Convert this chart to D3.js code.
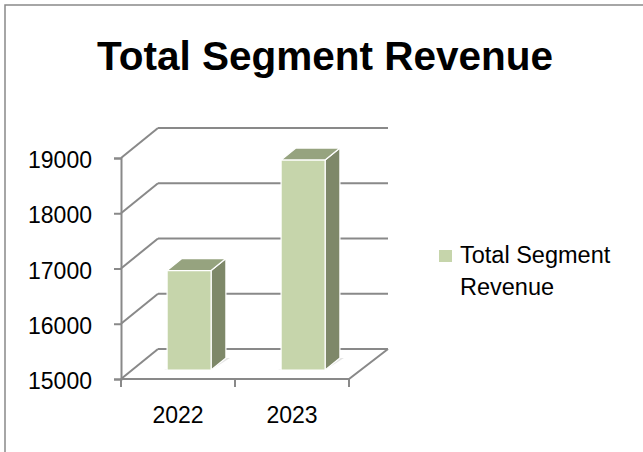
<!DOCTYPE html>
<html>
<head>
<meta charset="utf-8">
<script src="https://cdn.jsdelivr.net/npm/d3@7"></script>
<style>
  body { margin: 0; background: #fff; }
  text { font-family: "Liberation Sans", Arial, sans-serif; fill: #000; }
</style>
</head>
<body>
<div class="chart"></div>
<script>
let WIDTH = 643;
let HEIGHT = 452;

// data
let years = ["2022", "2023"];
let revenue = [16800, 18800];
let yTicks = [15000, 16000, 17000, 18000, 19000];
let seriesName = ["Total Segment", "Revenue"];

// front plane of the 3d box
let FRONT = {left: 121, right: 349, top: 158, bottom: 379};
let DEPTH = {dx: 37, dy: -30};
let GRID = "#898989";

let svg = d3.select(".chart")
            .append("svg")
            .attr("width", WIDTH)
            .attr("height", HEIGHT);

// chart border (only left and top visible)
svg.append("path")
   .attr("d", "M5," + HEIGHT + " L5,5 L" + WIDTH + ",5")
   .attr("fill", "none")
   .attr("stroke", GRID)
   .attr("stroke-width", 1.5);

// title
svg.append("text")
   .attr("x", 325)
   .attr("y", 70)
   .attr("text-anchor", "middle")
   .attr("font-weight", "bold")
   .attr("font-size", "40.5px")
   .text("Total Segment Revenue");

const Y_SCALE = d3.scaleLinear()
                  .domain([15000, 19000])
                  .range([FRONT.bottom, FRONT.top]);

const X_SCALE = d3.scaleBand()
                  .domain(years)
                  .range([FRONT.left, FRONT.right]);

// back wall gridlines
svg.selectAll(".grid")
   .data(yTicks)
   .enter()
   .append("line")
     .attr("x1", FRONT.left + DEPTH.dx)
     .attr("x2", FRONT.right + DEPTH.dx + 2)
     .attr("y1", (d) => Y_SCALE(d) + DEPTH.dy)
     .attr("y2", (d) => Y_SCALE(d) + DEPTH.dy)
     .attr("stroke", GRID)
     .attr("stroke-width", 2);

// side wall diagonals
svg.selectAll(".diag")
   .data(yTicks)
   .enter()
   .append("line")
     .attr("x1", FRONT.left)
     .attr("x2", FRONT.left + DEPTH.dx)
     .attr("y1", (d) => Y_SCALE(d))
     .attr("y2", (d) => Y_SCALE(d) + DEPTH.dy)
     .attr("stroke", GRID)
     .attr("stroke-width", 2);

// floor: front edge and right edge
svg.append("path")
   .attr("d", "M" + FRONT.left + "," + FRONT.bottom +
              " L" + FRONT.right + "," + FRONT.bottom +
              " L" + (FRONT.right + DEPTH.dx + 2) + "," + (FRONT.bottom + DEPTH.dy))
   .attr("fill", "none")
   .attr("stroke", GRID)
   .attr("stroke-width", 2);

// y axis
let yAxis = svg.append("g")
   .attr("transform", "translate(" + FRONT.left + ",0)")
   .call(d3.axisLeft(Y_SCALE).tickValues(yTicks).tickSize(7).tickPadding(22)
           .tickFormat(d3.format("d")));
yAxis.select(".domain").attr("stroke", GRID).attr("stroke-width", 2);
yAxis.selectAll(".tick line").attr("stroke", GRID).attr("stroke-width", 2);
yAxis.selectAll(".tick text")
     .attr("font-family", "Liberation Sans, Arial, sans-serif")
     .attr("font-size", "23px")
     .attr("fill", "#000")
     .attr("dy", "0.42em");

// x ticks at band edges
let xEdges = years.map((d) => X_SCALE(d)).concat([FRONT.right]);
svg.selectAll(".xtick")
   .data(xEdges)
   .enter()
   .append("line")
     .attr("x1", (d) => d)
     .attr("x2", (d) => d)
     .attr("y1", FRONT.bottom)
     .attr("y2", FRONT.bottom + 8)
     .attr("stroke", GRID)
     .attr("stroke-width", 2);

svg.selectAll(".xlabel")
   .data(years)
   .enter()
   .append("text")
     .attr("x", (d) => X_SCALE(d) + X_SCALE.bandwidth() / 2)
     .attr("y", 423)
     .attr("text-anchor", "middle")
     .attr("font-size", "23px")
     .text((d) => d);

// 3d bars
let BAR_W = 44;
let Z0 = 0.3, Z1 = 0.7;
let FRONT_FILL = "#c6d5ab", TOP_FILL = "#96a37f", SIDE_FILL = "#7e8869";

let bars = svg.selectAll(".bar")
   .data(years.map((d, i) => ({year: d, value: revenue[i]})))
   .enter()
   .append("g");

function pt(x, y, z) {
  return [x + z * DEPTH.dx, y + z * DEPTH.dy];
}

bars.each(function(d) {
  let g = d3.select(this);
  let x0 = X_SCALE(d.year) + (X_SCALE.bandwidth() - BAR_W) / 2;
  let x1 = x0 + BAR_W;
  let yb = Y_SCALE(15000);
  let yt = Y_SCALE(d.value);
  let poly = (pts) => "M" + pts.map((p) => p.join(",")).join(" L") + " Z";

  // soft shadow on the floor
  g.append("path")
   .attr("d", poly([pt(x0 - 4, yb, Z0 + 0.02), pt(x1, yb, Z0 + 0.02), pt(x1 + 4, yb, Z1), pt(x1, yb, Z1)]))
   .attr("fill", "#e4e4e4");

  g.append("path")
   .attr("d", poly([pt(x1, yb, Z0), pt(x1, yb, Z1), pt(x1, yt, Z1), pt(x1, yt, Z0)]))
   .attr("fill", SIDE_FILL)
   .attr("stroke", "#fff").attr("stroke-width", 1.2).attr("stroke-linejoin", "round");

  g.append("path")
   .attr("d", poly([pt(x0, yt, Z0), pt(x1, yt, Z0), pt(x1, yt, Z1), pt(x0, yt, Z1)]))
   .attr("fill", TOP_FILL)
   .attr("stroke", "#fff").attr("stroke-width", 1.2).attr("stroke-linejoin", "round");

  g.append("path")
   .attr("d", poly([pt(x0, yb, Z0), pt(x1, yb, Z0), pt(x1, yt, Z0), pt(x0, yt, Z0)]))
   .attr("fill", FRONT_FILL)
   .attr("stroke", "#fff").attr("stroke-width", 1.2).attr("stroke-linejoin", "round");
});

// legend
svg.append("rect")
   .attr("x", 439)
   .attr("y", 250)
   .attr("width", 13)
   .attr("height", 12)
   .attr("fill", FRONT_FILL);

svg.selectAll(".legend")
   .data(seriesName)
   .enter()
   .append("text")
     .attr("x", 460)
     .attr("y", (d, i) => 263 + i * 32)
     .attr("font-size", "23.5px")
     .text((d) => d);
</script>
</body>
</html>
